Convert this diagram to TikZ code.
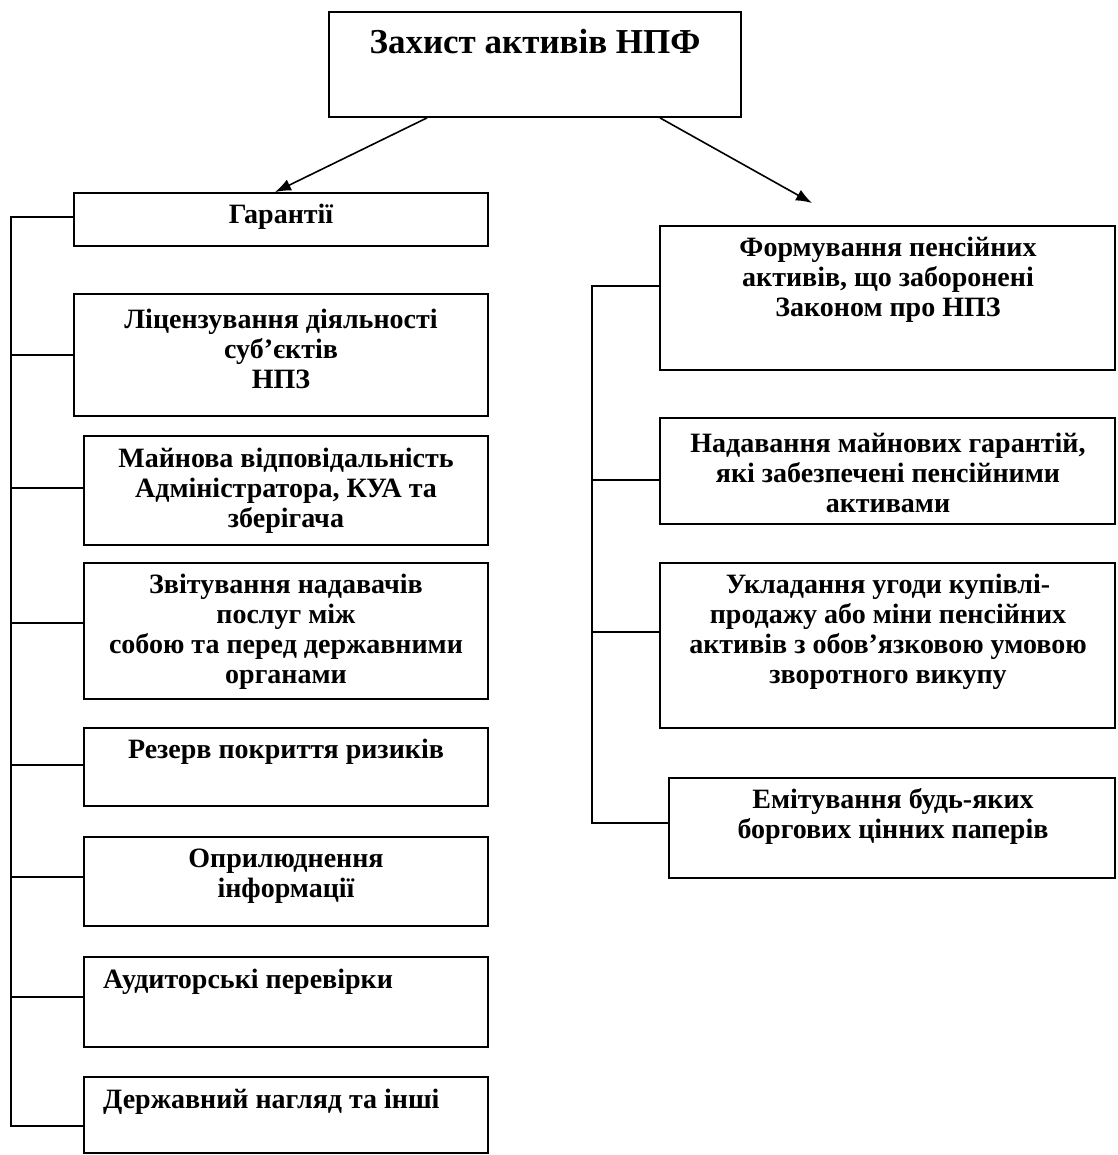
\documentclass[tikz,border=0pt]{standalone}
\usepackage{fontspec}
\setmainfont{Liberation Serif}
\usetikzlibrary{arrows.meta}

\begin{document}
\begin{tikzpicture}[x=1pt,y=-1pt,
    box/.style={draw, line width=1.8pt, inner sep=0pt},
    txt/.style={align=center, inner sep=0pt, font=\fontsize{28}{30}\selectfont\bfseries},
    link/.style={line width=1.8pt, line cap=rect},
    arr/.style={line width=1.6pt, -{Latex[length=16pt,width=12pt]}}]
  \useasboundingbox (0,0) rectangle (1117,1155);
  \foreach \n/\x/\y/\w/\h in {top/535/64.5/412/105, gar/281/219.5/414/53,
      lic/281/355/414/122, mai/286/490.5/404/109, zvi/286/631/404/136,
      rez/286/767/404/78, opr/286/881.5/404/89, aud/286/1002/404/90,
      der/286/1115/404/76, form/887.5/298/455/144, nad/887.5/471/455/106,
      ukl/887.5/645.5/455/165, emi/892/828/446/100} {
    \node[box, minimum width=\w, minimum height=\h] (\n) at (\x,\y) {};
  }
  \node[txt, font=\fontsize{35}{40}\selectfont\bfseries] (top-t) at (535,42) {Захист активів НПФ};
  \node[txt] (gar-t) at (281,217) {Гарантії};
  \node[txt] (lic-t) at (281,349) {Ліцензування діяльності\\суб’єктів\\НПЗ};
  \node[txt] (mai-t) at (286,491) {Майнова відповідальність\\Адміністратора, КУА та\\зберігача};
  \node[txt] (zvi-t) at (286,632) {Звітування надавачів\\послуг між\\собою та перед державними\\органами};
  \node[txt] (rez-t) at (286,752) {Резерв покриття ризиків};
  \node[txt] (opr-t) at (286,876) {Оприлюднення\\інформації};
  \node[txt, anchor=west] (aud-t) at (103,982) {Аудиторські перевірки};
  \node[txt, anchor=west] (der-t) at (103,1102) {Державний нагляд та інші};
  \node[txt] (form-t) at (888,280) {Формування пенсійних\\активів, що заборонені\\Законом про НПЗ};
  \node[txt] (nad-t) at (888,473) {Надавання майнових гарантій,\\які забезпечені пенсійними\\активами};
  \node[txt] (ukl-t) at (888,632) {Укладання угоди купівлі-\\продажу або міни пенсійних\\активів з обов’язковою умовою\\зворотного викупу};
  \node[txt] (emi-t) at (893,816) {Емітування будь-яких\\боргових цінних паперів};

  \foreach \n/\s/\l in {gar/2.5/62, lic/0/62, mai/2.5/72, zvi/8/72, rez/2/72,
      opr/4.5/72, aud/5/72, der/-11/72, form/12/67, nad/-9/67, ukl/13.5/67, emi/5/76} {
    \draw[link] ([yshift=\s]\n.west) -- ++(-\l,0) coordinate (\n-b);
  }
  \draw[link] (gar-b) -- (der-b);
  \draw[link] (form-b) -- (emi-b);

  \coordinate (rtip) at (812,203);
  \draw[arr] ([xshift=-108]top.south) -- ([xshift=-6]gar.north);
  \draw[arr] ([xshift=125]top.south) -- (rtip);
\end{tikzpicture}
\end{document}
